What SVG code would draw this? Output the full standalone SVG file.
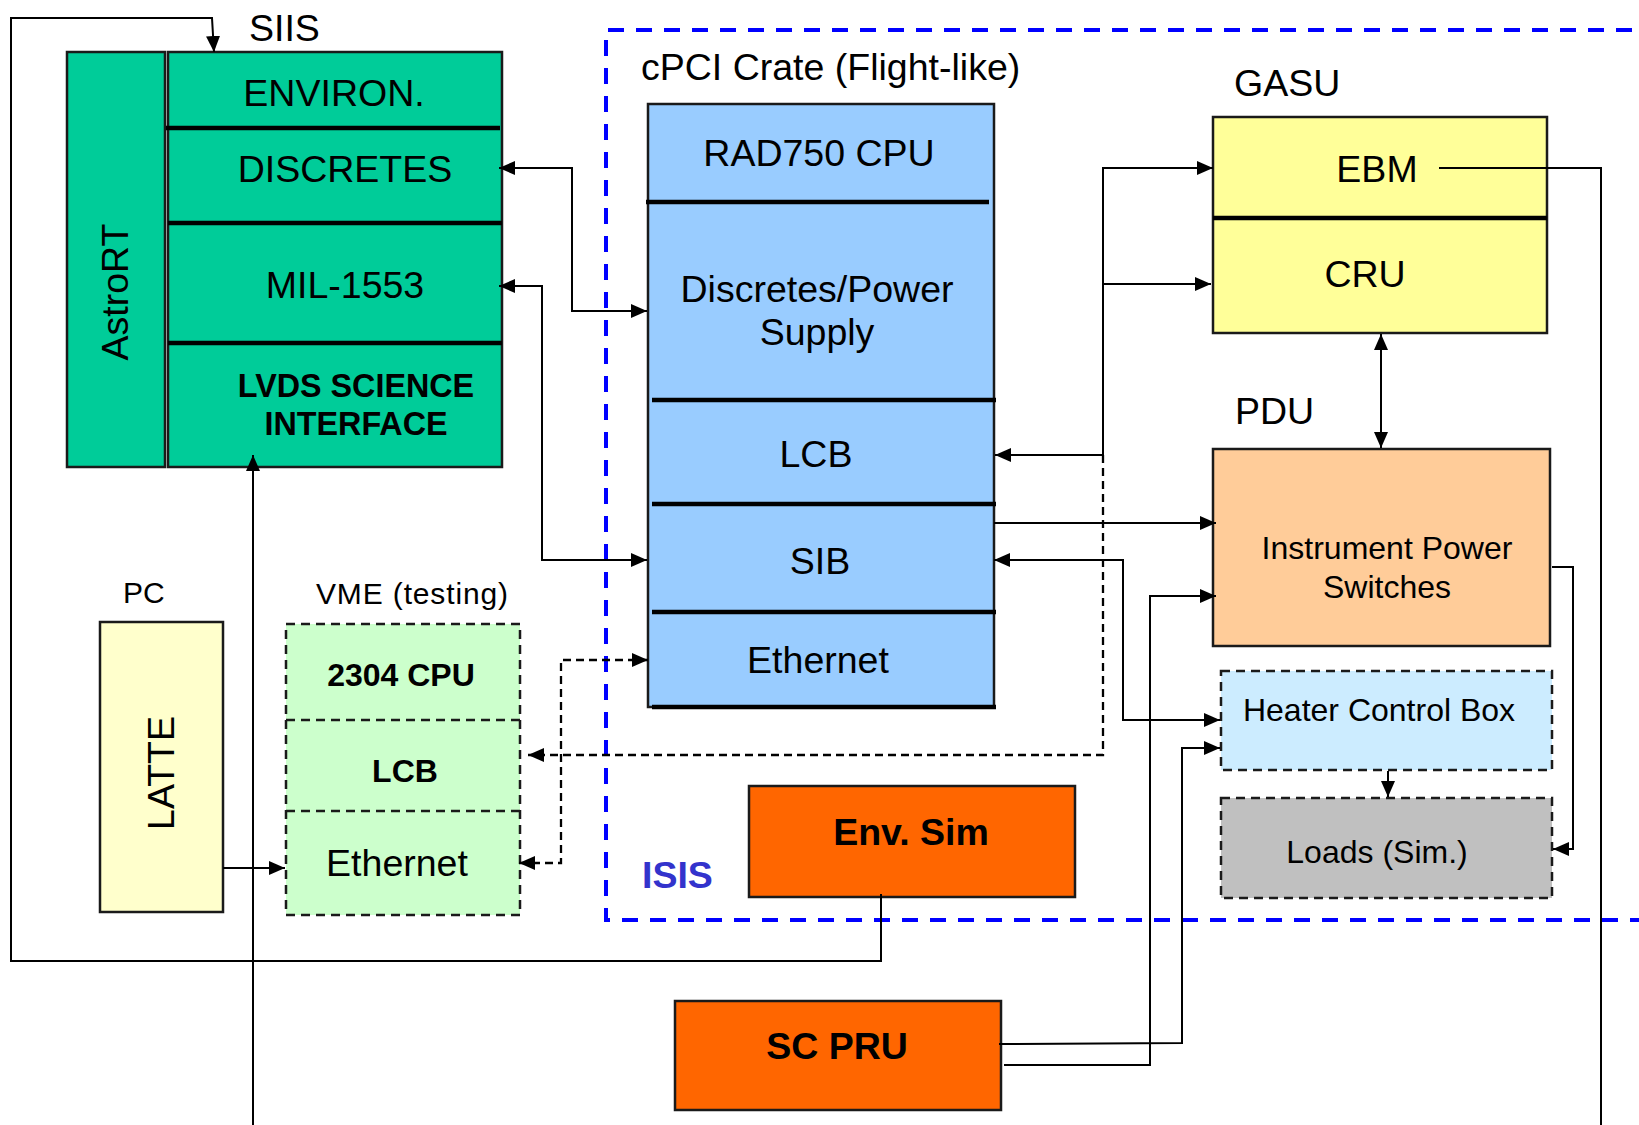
<svg xmlns="http://www.w3.org/2000/svg" width="1639" height="1125" viewBox="0 0 1639 1125">
<defs>
<marker id="arr" viewBox="0 0 16 14" refX="16" refY="7" markerWidth="16" markerHeight="14" markerUnits="userSpaceOnUse" orient="auto-start-reverse">
<path d="M0,0 L16,7 L0,14 z" fill="#000"/>
</marker>
<style>
text{font-family:"Liberation Sans",Arial,sans-serif;fill:#000}
.t36{font-size:37.5px}
.t31{font-size:32px}
.t30{font-size:30px}
.tb{font-size:32.3px}
.b{font-weight:bold}
.m{text-anchor:middle}
.box{stroke:#1a1a1a;stroke-width:2.5}
.div{stroke:#000;stroke-width:4.5}
.dbox{stroke:#1a1a1a;stroke-width:2.5;stroke-dasharray:9 6}
.c{fill:none;stroke:#000;stroke-width:2}
.cd{fill:none;stroke:#000;stroke-width:2.3;stroke-dasharray:8 5}
</style>
</defs>
<rect width="1639" height="1125" fill="#fff"/>

<g id="isis">
<path d="M1660,30 H606 V920 H1660" fill="none" stroke="#0000FF" stroke-width="4" stroke-dasharray="16 12"/>
<text x="642" y="888" class="t36 b" style="fill:#3333CC">ISIS</text>
</g>

<g id="astrort">
<rect x="67" y="52" width="98" height="415" fill="#00CC99" class="box"/>
<text transform="translate(128,292) rotate(-90)" class="t36 m">AstroRT</text>
</g>

<g id="siis">
<text x="249" y="41" class="t36">SIIS</text>
<rect x="168" y="52" width="334" height="415" fill="#00CC99" class="box"/>
<line x1="166" y1="128" x2="500" y2="128" class="div"/>
<line x1="168" y1="223" x2="502" y2="223" class="div"/>
<line x1="168" y1="343" x2="502" y2="343" class="div"/>
<text x="334" y="106" class="t36 m">ENVIRON.</text>
<text x="345" y="182" class="t36 m">DISCRETES</text>
<text x="345" y="298" class="t36 m">MIL-1553</text>
<text x="356" y="397" class="tb b m">LVDS SCIENCE</text>
<text x="356" y="435" class="tb b m">INTERFACE</text>
</g>

<g id="cpci">
<text x="641" y="80" class="t36">cPCI Crate (Flight-like)</text>
<rect x="648" y="104" width="346" height="603" fill="#99CCFF" class="box"/>
<line x1="646" y1="202" x2="989" y2="202" class="div"/>
<line x1="652" y1="400" x2="996" y2="400" class="div"/>
<line x1="652" y1="504" x2="996" y2="504" class="div"/>
<line x1="652" y1="612" x2="996" y2="612" class="div"/>
<line x1="652" y1="707" x2="996" y2="707" class="div"/>
<text x="819" y="166" class="t36 m">RAD750 CPU</text>
<text x="817" y="302" class="t36 m">Discretes/Power</text>
<text x="817" y="345" class="t36 m">Supply</text>
<text x="816" y="467" class="t36 m">LCB</text>
<text x="820" y="574" class="t36 m">SIB</text>
<text x="818" y="673" class="t36 m">Ethernet</text>
</g>

<g id="gasu">
<text x="1234" y="96" class="t36">GASU</text>
<rect x="1213" y="117" width="334" height="216" fill="#FFFF99" class="box"/>
<line x1="1213" y1="218" x2="1547" y2="218" class="div"/>
<text x="1377" y="182" class="t36 m">EBM</text>
<text x="1365" y="287" class="t36 m">CRU</text>
</g>

<g id="pdu">
<text x="1235" y="424" class="t36">PDU</text>
<rect x="1213" y="449" width="337" height="197" fill="#FFCC99" class="box"/>
<text x="1387" y="559" class="t31 m">Instrument Power</text>
<text x="1387" y="598" class="t31 m">Switches</text>
</g>

<g id="heater">
<rect x="1221" y="671" width="331" height="99" fill="#CCECFF" class="dbox"/>
<text x="1379" y="721" class="t31 m">Heater Control Box</text>
</g>

<g id="loads">
<rect x="1221" y="798" width="331" height="100" fill="#C0C0C0" class="dbox"/>
<text x="1377" y="863" class="t31 m">Loads (Sim.)</text>
</g>

<g id="envsim">
<rect x="749" y="786" width="326" height="111" fill="#FF6600" class="box"/>
<text x="911" y="845" class="t36 b m">Env. Sim</text>
</g>

<g id="scpru">
<rect x="675" y="1001" width="326" height="109" fill="#FF6600" class="box"/>
<text x="837" y="1059" class="t36 b m">SC PRU</text>
</g>

<g id="pc">
<text x="123" y="603" class="t30">PC</text>
<rect x="100" y="622" width="123" height="290" fill="#FFFFCC" class="box"/>
<text transform="translate(174,773) rotate(-90)" class="t36 m">LATTE</text>
</g>

<g id="vme">
<text x="316" y="604" class="t30" textLength="192">VME (testing)</text>
<rect x="286" y="624" width="234" height="291" fill="#CCFFCC" class="dbox"/>
<line x1="286" y1="720" x2="520" y2="720" class="dbox"/>
<line x1="286" y1="811" x2="520" y2="811" class="dbox"/>
<text x="401" y="686" class="t31 b m">2304 CPU</text>
<text x="405" y="782" class="t31 b m">LCB</text>
<text x="397" y="876" class="t36 m">Ethernet</text>
</g>

<g id="connectors">
<path d="M881,894 V961 H11 V18 H212 L214,52" class="c" marker-end="url(#arr)"/>
<path d="M253,1125 V455" class="c" marker-end="url(#arr)"/>
<path d="M499,168 H572 V311 H647" class="c" marker-start="url(#arr)" marker-end="url(#arr)"/>
<path d="M499,286 H542 V560 H647" class="c" marker-start="url(#arr)" marker-end="url(#arr)"/>
<path d="M1103,455 H995" class="c" marker-end="url(#arr)"/>
<path d="M1103,455 V168 H1213" class="c" marker-end="url(#arr)"/>
<path d="M1103,284 H1211" class="c" marker-end="url(#arr)"/>
<path d="M1103,455 V755 H528" class="cd" marker-end="url(#arr)"/>
<path d="M519,863 H561 V660 H648" class="cd" marker-start="url(#arr)" marker-end="url(#arr)"/>
<path d="M994,523 H1216" class="c" marker-end="url(#arr)"/>
<path d="M994,560 H1123 V720 H1220" class="c" marker-start="url(#arr)" marker-end="url(#arr)"/>
<path d="M999,1044 L1182,1043 V748 H1220" class="c" marker-end="url(#arr)"/>
<path d="M1004,1065 H1150 V596 H1216" class="c" marker-end="url(#arr)"/>
<path d="M1439,168 H1601 V1125" class="c"/>
<path d="M1381,334 V448" class="c" marker-start="url(#arr)" marker-end="url(#arr)"/>
<path d="M1552,567 H1573 V849 H1553" class="c" marker-end="url(#arr)"/>
<path d="M1388,771 V797" class="c" marker-end="url(#arr)"/>
<path d="M223,868 H285" class="c" marker-end="url(#arr)"/>
</g>
</svg>
